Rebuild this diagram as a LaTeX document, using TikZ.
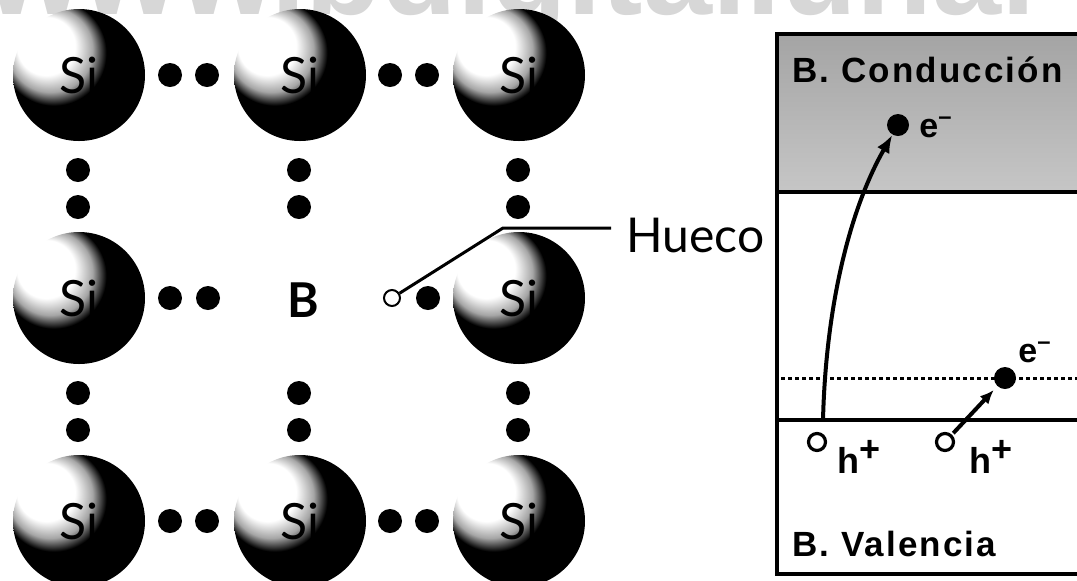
\documentclass[tikz,border=0pt]{standalone}
\usepackage{fontspec}
\setmainfont{Lato}
\newfontfamily\bandfont[LetterSpace=6]{Liberation Sans}
\newfontfamily\markfont{Liberation Sans}
\usetikzlibrary{arrows.meta}
\definecolor{ink}{HTML}{000000}
\definecolor{mark}{HTML}{D7D7D7}
\definecolor{bandtop}{HTML}{A4A4A4}
\definecolor{bandbottom}{HTML}{C6C6C6}
% silicon ball: light from the upper left, dark crescent on the lower right
\pgfdeclareradialshading{litside}{\pgfpoint{-16bp}{14bp}}{%
  color(0bp)=(white); color(11bp)=(white); color(16bp)=(black!35);
  color(20bp)=(black); color(50bp)=(black)}
\tikzset{
  atom/.style={
    circle,
    shading=litside,
    minimum size=66pt,
    inner sep=0pt,
    font=\fontsize{25}{28}\selectfont,
    text=ink
  },
  electron/.style={
    circle,
    fill=ink,
    minimum size=12pt,
    inner sep=0pt
  },
  hole/.style={
    circle,
    draw=ink,
    fill=white,
    line width=1pt,
    minimum size=8pt,
    inner sep=0pt
  },
  bandhole/.style={
    hole,
    line width=1.6pt,
    minimum size=8.5pt
  },
  leader/.style={
    draw=ink,
    line width=1.5pt
  },
  jump/.style={
    -{Latex[length=9pt,width=7pt]},
    draw=ink,
    line width=2pt
  },
  bandlabel/.style={
    anchor=base west,
    inner sep=0pt,
    font=\bandfont\bfseries\fontsize{17.5}{20}\selectfont
  },
  charge/.style={
    anchor=base west,
    inner sep=0pt,
    font=\markfont\bfseries\fontsize{17}{19}\selectfont
  }
}

\begin{document}
\begin{tikzpicture}[x=0.5pt,y=-0.5pt]
  \useasboundingbox (0,0) rectangle (1077,580);
  \clip (0,0) rectangle (1077,580);

  \node[anchor=base west,inner sep=0pt,text=mark,
    font=\markfont\bfseries\fontsize{62}{70}\selectfont] (site) at (-14,14)
    {www.bdigital.unal};

  % silicon lattice with a boron atom in the middle
  \node[atom] (si-11) at (79,75) {Si};
  \node[atom] (si-12) at (300,75) {Si};
  \node[atom] (si-13) at (519,75) {Si};
  \node[atom] (si-21) at (79,298) {Si};
  \node[font=\bfseries\fontsize{24}{28}\selectfont] (boron) at (303,300) {B};
  \node[atom] (si-23) at (519,298) {Si};
  \node[atom] (si-31) at (79,521) {Si};
  \node[atom] (si-32) at (300,521) {Si};
  \node[atom] (si-33) at (519,521) {Si};

  \node[electron] (e-11a) at (170,75) {};
  \node[electron] (e-11b) at (207,75) {};
  \node[electron] (e-12a) at (390,75) {};
  \node[electron] (e-12b) at (427,75) {};
  \node[electron] (e-21a) at (170,298) {};
  \node[electron] (e-21b) at (208,298) {};
  \node[hole] (hole) at (392,298) {};
  \node[electron] (e-22b) at (428,298) {};
  \node[electron] (e-31a) at (170,521) {};
  \node[electron] (e-31b) at (207,521) {};
  \node[electron] (e-32a) at (390,521) {};
  \node[electron] (e-32b) at (427,521) {};

  \node[electron] (v-11a) at (78,170) {};
  \node[electron] (v-11b) at (78,207) {};
  \node[electron] (v-12a) at (299,170) {};
  \node[electron] (v-12b) at (299,207) {};
  \node[electron] (v-13a) at (518,170) {};
  \node[electron] (v-13b) at (518,207) {};
  \node[electron] (v-21a) at (78,393) {};
  \node[electron] (v-21b) at (78,430) {};
  \node[electron] (v-22a) at (299,393) {};
  \node[electron] (v-22b) at (299,430) {};
  \node[electron] (v-23a) at (518,393) {};
  \node[electron] (v-23b) at (518,430) {};

  \node[anchor=base west,inner sep=0pt,font=\fontsize{24}{28}\selectfont]
    (hueco) at (626,252) {Hueco};
  \coordinate (hueco-bend) at (503,228);
  \coordinate (hueco-end) at (611,228);
  \draw[leader] (hole) -- (hueco-bend) -- (hueco-end);

  % band diagram
  \fill[top color=bandtop,bottom color=bandbottom] (777,34) rectangle (1095,192);
  \draw[line width=1.6pt] (777,192) -- (1095,192);
  \draw[line width=1.6pt] (777,420) -- (1095,420);
  \draw[line width=1.5pt,dash pattern=on 2pt off 1.5pt] (781,378) -- (1095,378);
  \draw[line width=2pt] (1095,34) -| (777,574) -- (1095,574);

  \node[bandlabel] (cond-label) at (792,82) {B. Conducción};
  \node[bandlabel] (val-label) at (792,556) {B. Valencia};

  \node[electron,minimum size=11pt] (e-cond) at (898,125) {};
  \node[charge] (e-cond-label) at (919,137) {e\textsuperscript{–}};
  \node[electron,minimum size=11pt] (e-acc) at (1005,378) {};
  \node[charge] (e-acc-label) at (1018,362) {e\textsuperscript{–}};

  \node[bandhole] (h-1) at (817,442) {};
  \node[charge,font=\markfont\bfseries\fontsize{18}{20}\selectfont]
    (h-1-label) at (837,473) {h\raisebox{6pt}{+}};
  \node[bandhole] (h-2) at (945,442) {};
  \node[charge,font=\markfont\bfseries\fontsize{18}{20}\selectfont]
    (h-2-label) at (969,473) {h\raisebox{6pt}{+}};

  \coordinate (gap-start) at (823,420);
  \draw[jump] (gap-start) .. controls (826,300) and (852,205) .. (e-cond);
  \draw[jump,-{Latex[length=7pt,width=6pt]},shorten >=2.5pt,shorten <=1pt]
    (h-2) -- (e-acc);
\end{tikzpicture}
\end{document}
